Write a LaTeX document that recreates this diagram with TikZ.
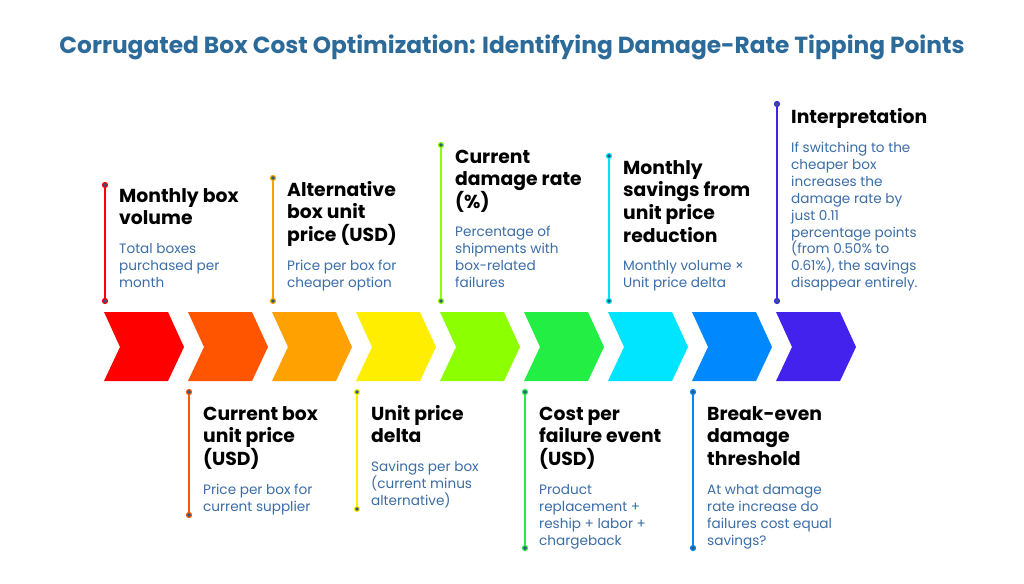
\documentclass[tikz,border=0pt]{standalone}
\usepackage{fontspec}
\setmainfont{Poppins}
\begin{document}
\definecolor{ttl}{HTML}{2B6A99}
\definecolor{dsc}{HTML}{3B6DA6}
\definecolor{dotc}{HTML}{2E5A80}
\definecolor{c1}{HTML}{FF0000}
\definecolor{c2}{HTML}{FF5500}
\definecolor{c3}{HTML}{FFA100}
\definecolor{c4}{HTML}{FFEE00}
\definecolor{c5}{HTML}{8CFF00}
\definecolor{c6}{HTML}{22EE44}
\definecolor{c7}{HTML}{00E5FF}
\definecolor{c8}{HTML}{0088FF}
\definecolor{c9}{HTML}{4422EE}
\begin{tikzpicture}[x=1pt,y=-1pt,
  hd/.style={anchor=base west,inner sep=0pt,align=left,font=\fontsize{18.8}{22.7}\selectfont\bfseries,text=black},
  ds/.style={anchor=base west,inner sep=0pt,align=left,font=\fontsize{13.6}{17}\selectfont,text=dsc},
  dot/.style={circle,draw=#1,fill=dotc,line width=1.2pt,inner sep=0pt,minimum size=5pt},
  stem/.style={draw=#1,line width=1.5pt}]
\useasboundingbox (0,0) rectangle (1024,583);
\node[font=\fontsize{23.3}{28}\selectfont\bfseries,text=ttl] (title) at (512,47) {Corrugated Box Cost Optimization: Identifying Damage-Rate Tipping Points};
\foreach \i/\c in {0/c1,1/c2,2/c3,3/c4,4/c5,5/c6,6/c7,7/c8,8/c9}{
  \fill[\c] (104+84*\i,312) -- (168+84*\i,312) -- (184+84*\i,347) -- (168+84*\i,381) -- (104+84*\i,381) -- (120+84*\i,347) -- cycle;
}
\foreach \n/\x/\ya/\yb/\c in {a/105/185/301/c1, b/189/392/515/c2, c/273/178/301/c3, d/357/392/509/c4, e/441/145/301/c5, f/525/392/548/c6, g/609/156/301/c7, h/693/392/548/c8, k/777/104/301/c9}{
  \node[dot=\c] (\n1) at (\x,\ya) {};
  \node[dot=\c] (\n2) at (\x,\yb) {};
  \draw[stem=\c] (\n1) -- (\n2);
}
% top items (y = baseline of last line)
\node[hd] (ta) at (119,224.7) {Monthly box\\volume};
\node[ds] (da) at (119,287.5) {Total boxes\\purchased per\\month};
\node[hd] (tc) at (287,241.4) {Alternative\\box unit\\price (USD)};
\node[ds] (dc) at (287,287.5) {Price per box for\\cheaper option};
\node[hd] (te) at (455,208.4) {Current\\damage rate\\(\%)};
\node[ds] (de) at (455,287.5) {Percentage of\\shipments with\\box-related\\failures};
\node[hd] (tg) at (623,242.1) {Monthly\\savings from\\unit price\\reduction};
\node[ds] (dg) at (623,287.5) {Monthly volume ×\\Unit price delta};
\node[hd] (tk) at (791,124) {Interpretation};
\node[ds,font=\fontsize{13.6}{16.9}\selectfont] (dk) at (791,287.7) {If switching to the\\cheaper box\\increases the\\damage rate by\\just 0.11\\percentage points\\(from 0.50\% to\\0.61\%), the savings\\disappear entirely.};
% bottom items
\node[hd] (tb) at (203,465.4) {Current box\\unit price\\(USD)};
\node[ds] (db) at (203,511.5) {Price per box for\\current supplier};
\node[hd] (td) at (371,442.7) {Unit price\\delta};
\node[ds] (dd) at (371,505.5) {Savings per box\\(current minus\\alternative)};
\node[hd] (tf) at (539,465.4) {Cost per\\failure event\\(USD)};
\node[ds] (df) at (539,545.5) {Product\\replacement +\\reship + labor +\\chargeback};
\node[hd] (th) at (707,465.4) {Break-even\\damage\\threshold};
\node[ds] (dh) at (707,545.5) {At what damage\\rate increase do\\failures cost equal\\savings?};
\end{tikzpicture}
\end{document}
